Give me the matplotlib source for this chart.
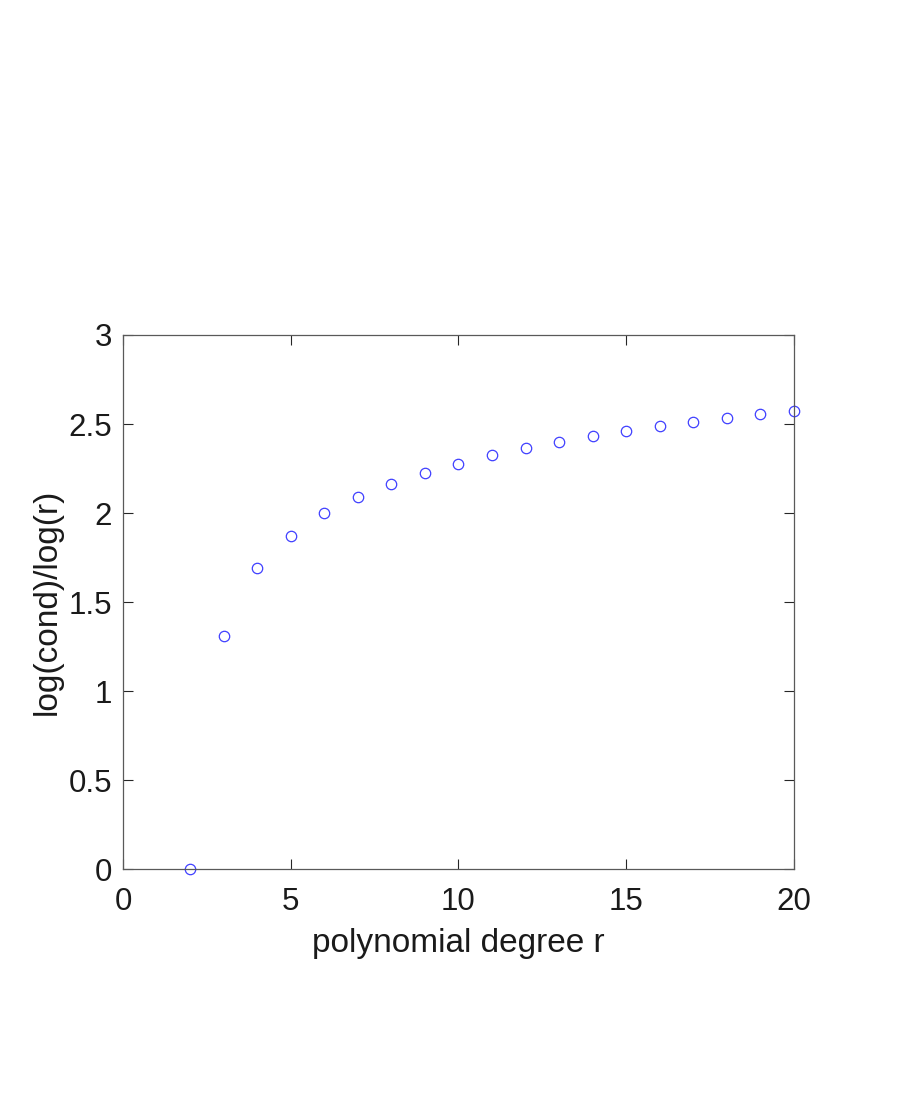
import matplotlib
matplotlib.use('Agg')
from matplotlib import pyplot as plt

plt.rcParams['font.family'] = ['Liberation Sans', 'DejaVu Sans']

# polynomial degree and log(cond)/log(r)
degree = [2, 3, 4, 5, 6, 7, 8, 9, 10, 11, 12, 13, 14, 15, 16, 17, 18, 19, 20]
ratio = [0.0, 1.312, 1.691, 1.874, 1.998, 2.090, 2.163, 2.225, 2.277, 2.324,
         2.363, 2.401, 2.433, 2.462, 2.489, 2.513, 2.535, 2.556, 2.575]
xticks = [0, 5, 10, 15, 20]
yticks = [0, 0.5, 1, 1.5, 2, 2.5, 3]

fig = plt.figure(figsize=(9.19, 11.07), dpi=100)
ax = fig.add_axes([0.1338, 0.2147, 0.8640 - 0.1338, 0.6974 - 0.2147])
ax.plot(degree, ratio, 'o', color='blue', markerfacecolor='none',
        markersize=7.5, markeredgewidth=0.9, alpha=0.75, clip_on=False)

ax.set_xlim(0, 20)
ax.set_ylim(0, 3)
ax.set_xticks(xticks)
ax.set_yticks(yticks)
ax.set_xticklabels([str(t) for t in xticks])
ax.set_yticklabels(['0', '0.5', '1', '1.5', '2', '2.5', '3'])
ax.tick_params(direction='in', length=7, width=0.8, color='0.15',
               labelsize=22.5, labelcolor='0.1', pad=8, top=True, right=True)
ax.tick_params(axis='x', pad=13)
for s in ax.spines.values():
    s.set_color('0.35')
    s.set_linewidth(0.9)
ax.set_xlabel('polynomial degree r', fontsize=24, color='0.1', labelpad=8)
ax.set_ylabel('log(cond)/log(r)', fontsize=24, color='0.1', labelpad=4)

plt.savefig('out.png', dpi=100)
